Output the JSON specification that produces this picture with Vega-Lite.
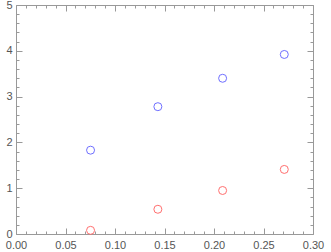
{
  "$schema": "https://vega.github.io/schema/vega-lite/v6.json",
  "autosize": {"type": "none"},
  "padding": {"left": 16, "top": 5, "right": 18, "bottom": 18},
  "width": 297,
  "height": 229,
  "background": "white",
  "config": {
    "view": {"stroke": null},
    "axis": {
      "domainColor": "#999999",
      "tickColor": "#999999",
      "labelColor": "#555555",
      "labelFont": "Liberation Sans",
      "labelFontSize": 11,
      "grid": false,
      "title": null,
      "labelFlush": false,
      "labelOverlap": false
    }
  },
  "data": {
    "values": [
      {"x": 0.0753, "y": 1.83, "series": "A"},
      {"x": 0.1433, "y": 2.78, "series": "A"},
      {"x": 0.2087, "y": 3.40, "series": "A"},
      {"x": 0.2710, "y": 3.92, "series": "A"},
      {"x": 0.0753, "y": 0.08, "series": "B"},
      {"x": 0.1433, "y": 0.54, "series": "B"},
      {"x": 0.2087, "y": 0.95, "series": "B"},
      {"x": 0.2710, "y": 1.41, "series": "B"}
    ]
  },
  "layer": [
    {
      "mark": {"type": "point", "shape": "circle", "filled": false, "size": 64, "strokeWidth": 1, "opacity": 1},
      "encoding": {
        "x": {
          "field": "x", "type": "quantitative",
          "scale": {"domain": [0, 0.3], "nice": false, "zero": false},
          "axis": {
            "orient": "bottom",
            "values": [0,0.01,0.02,0.03,0.04,0.05,0.06,0.07,0.08,0.09,0.1,0.11,0.12,0.13,0.14,0.15,0.16,0.17,0.18,0.19,0.2,0.21,0.22,0.23,0.24,0.25,0.26,0.27,0.28,0.29,0.3],
            "tickSize": {"condition": {"test": "round(datum.value*100) % 5 == 0", "value": -6}, "value": -3},
            "labelExpr": "round(datum.value*100) % 5 == 0 ? format(datum.value, '.2f') : ''",
            "labelPadding": 11
          }
        },
        "y": {
          "field": "y", "type": "quantitative",
          "scale": {"domain": [0, 5], "nice": false, "zero": false},
          "axis": {
            "orient": "left",
            "values": [0,0.2,0.4,0.6,0.8,1,1.2,1.4,1.6,1.8,2,2.2,2.4,2.6,2.8,3,3.2,3.4,3.6,3.8,4,4.2,4.4,4.6,4.8,5],
            "tickSize": {"condition": {"test": "round(datum.value*5) % 5 == 0", "value": -6}, "value": -3},
            "labelExpr": "round(datum.value*5) % 5 == 0 ? format(datum.value, 'd') : ''",
            "labelPadding": 10
          }
        },
        "color": {
          "field": "series", "type": "nominal",
          "scale": {"domain": ["A", "B"], "range": ["#6f6fff", "#ff6f6f"]},
          "legend": null
        }
      }
    },
    {
      "mark": {"type": "point", "opacity": 0},
      "encoding": {
        "x": {
          "field": "x", "type": "quantitative",
          "scale": {"domain": [0, 0.3], "nice": false, "zero": false},
          "axis": {
            "orient": "top",
            "values": [0,0.01,0.02,0.03,0.04,0.05,0.06,0.07,0.08,0.09,0.1,0.11,0.12,0.13,0.14,0.15,0.16,0.17,0.18,0.19,0.2,0.21,0.22,0.23,0.24,0.25,0.26,0.27,0.28,0.29,0.3],
            "tickSize": {"condition": {"test": "round(datum.value*100) % 5 == 0", "value": -6}, "value": -3},
            "labels": false
          }
        },
        "y": {
          "field": "y", "type": "quantitative",
          "scale": {"domain": [0, 5], "nice": false, "zero": false},
          "axis": {
            "orient": "right",
            "values": [0,0.2,0.4,0.6,0.8,1,1.2,1.4,1.6,1.8,2,2.2,2.4,2.6,2.8,3,3.2,3.4,3.6,3.8,4,4.2,4.4,4.6,4.8,5],
            "tickSize": {"condition": {"test": "round(datum.value*5) % 5 == 0", "value": -6}, "value": -3},
            "labels": false
          }
        }
      }
    }
  ],
  "resolve": {"axis": {"x": "independent", "y": "independent"}}
}
